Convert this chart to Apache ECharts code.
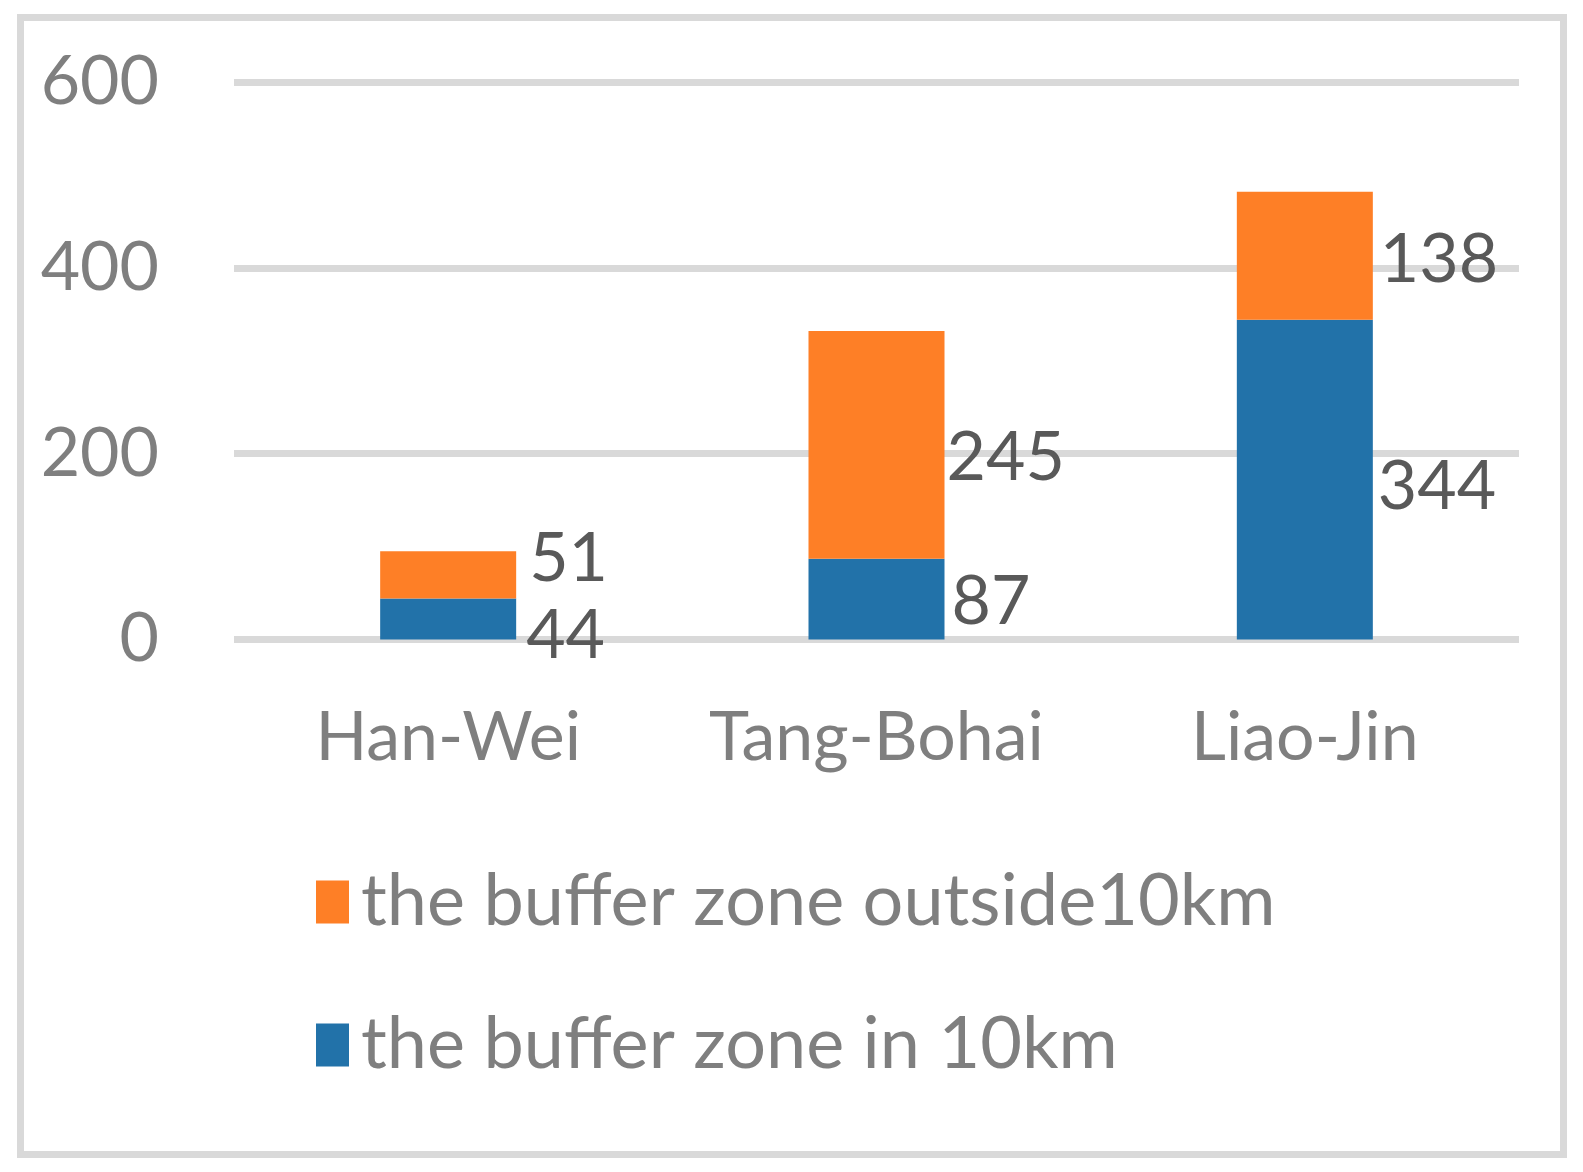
<!DOCTYPE html>
<html>
<head>
<meta charset="utf-8">
<script src="https://cdn.jsdelivr.net/npm/echarts@6/dist/echarts.min.js"></script>
<style>html,body{margin:0;padding:0;background:#fff}#c{width:1583px;height:1172px}</style>
</head>
<body>
<div id="c"></div>
<script>
const categories = ['Han-Wei', 'Tang-Bohai', 'Liao-Jin'];
const inside10km = [44, 87, 344];
const outside10km = [51, 245, 138];
const yTicks = [0, 200, 400, 600];
const seriesNames = ['the buffer zone in 10km', 'the buffer zone outside10km'];

// label nudges [dx, dy] (style only)
const insideNudge = [[-4, 17], [-7, 3], [-9, 7]];
const outsideNudge = [[-1, -16], [-12, 13], [-7, 4]];

const FONT = 'Lato';
const chart = echarts.init(document.getElementById('c'), null, {renderer: 'canvas'});
const labelStyle = {show: true, position: 'right', distance: 14, color: '#595959', fontSize: 68, fontFamily: FONT};
chart.setOption({
  animation: false,
  backgroundColor: '#fff',
  graphic: [{type: 'rect', shape: {x: 20.5, y: 17.5, width: 1543, height: 1137}, style: {fill: 'none', stroke: '#d9d9d9', lineWidth: 7}}],
  grid: {left: 234, right: 64, top: 82, bottom: 532.5},
  legend: {
    orient: 'vertical', left: 316, top: 866, itemWidth: 33, itemHeight: 43, itemGap: 71, padding: 0,
    icon: 'rect',
    data: [seriesNames[1], seriesNames[0]],
    textStyle: {fontSize: 72, color: '#7f7f7f', fontFamily: FONT, padding: [0, 0, 0, 7]}
  },
  xAxis: {
    type: 'category', data: categories,
    axisLine: {show: false}, axisTick: {show: false},
    axisLabel: {color: '#7f7f7f', fontSize: 68, fontFamily: FONT, margin: 65, interval: 0}
  },
  yAxis: {
    type: 'value', min: yTicks[0], max: yTicks[yTicks.length - 1], interval: 200,
    axisLine: {show: false}, axisTick: {show: false},
    axisLabel: {color: '#7f7f7f', fontSize: 68, fontFamily: FONT, margin: 75},
    splitLine: {show: true, lineStyle: {color: '#d9d9d9', width: 7}}
  },
  series: [
    {name: seriesNames[0], type: 'bar', stack: 'a', barWidth: 136, itemStyle: {color: '#2272A9'},
     label: labelStyle,
     data: inside10km.map((v, i) => ({value: v, label: {offset: insideNudge[i]}}))},
    {name: seriesNames[1], type: 'bar', stack: 'a', barWidth: 136, itemStyle: {color: '#FE7F26'},
     label: labelStyle,
     data: outside10km.map((v, i) => ({value: v, label: {offset: outsideNudge[i]}}))}
  ]
});
</script>
</body>
</html>
